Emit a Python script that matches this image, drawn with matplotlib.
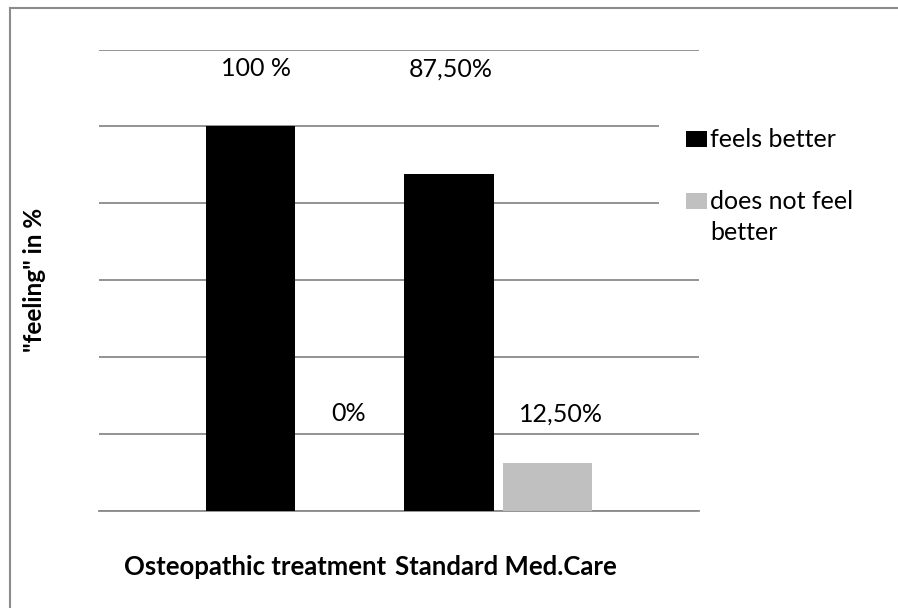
import matplotlib
matplotlib.use("Agg")
import matplotlib.pyplot as plt
from matplotlib.patches import Rectangle
from matplotlib.lines import Line2D
import numpy as np

plt.rcParams['font.family'] = ['Lato', 'DejaVu Sans']

# data
groups = ['Osteopathic treatment', 'Standard Med.Care']
series = ['feels better', 'does not feel better']
feels_better = [100, 87.5]
not_better = [0, 12.5]
value_text_better = ['100 %', '87,50%']
value_text_not = ['0%', '12,50%']
colors = ['black', '#c0c0c0']

fig = plt.figure(figsize=(8.98, 6.08), dpi=100)
ax = fig.add_axes([99 / 898, 1 - 511 / 608, 600 / 898, 461.5 / 608])

x = np.arange(len(groups))
w = 0.45
off = 0.247
ax.bar(x - off, feels_better, w, color=colors[0], label=series[0], zorder=3)
ax.bar(x + off, not_better, w, color=colors[1], label=series[1], zorder=3)

# value labels
for i, t in enumerate(value_text_better):
    dx = [0.028, 0.008][i]
    ax.text(x[i] - off + dx, 113, t, ha='center', va='baseline', fontsize=18)
for i, t in enumerate(value_text_not):
    dx = [0.0, 0.07][i]
    ax.text(x[i] + off + dx, 23.3, t, ha='center', va='baseline', fontsize=18)

ax.set_xlim(-1.009, 2.011)
ax.set_ylim(0, 120)
ax.set_yticks(range(0, 121, 20))
ax.yaxis.grid(True, color='#8a8a8a', lw=1.3)
ax.set_axisbelow(True)
ax.tick_params(left=False, bottom=False, labelleft=False, labelbottom=False)
for s in ['top', 'right', 'left']:
    ax.spines[s].set_visible(False)
ax.spines['bottom'].set_color('#8a8a8a')
ax.spines['bottom'].set_linewidth(1.3)

# category names under the axis
name_x = [-0.221, 1.039]
for nx, name in zip(name_x, groups):
    ax.text(nx, -0.1387, name, transform=ax.get_xaxis_transform(),
            ha='center', va='baseline', fontsize=18.5, fontweight='bold')

fig.text(34 / 898, 1 - 280 / 608, '"feeling" in %', rotation=90,
         ha='center', va='center', fontsize=17.5, fontweight='bold')

# legend: white box over the grid, squares and labels
def fy(py):
    return 1 - py / 608

fig.patches.append(Rectangle((659 / 898, fy(262)), 200 / 898, 158 / 608,
                             transform=fig.transFigure, facecolor='white',
                             edgecolor='none', zorder=2))
legend_lines = [['feels better'], ['does not feel', 'better']]
square_top = [131, 193]
for col, lines, top in zip(colors, legend_lines, square_top):
    fig.patches.append(Rectangle((686 / 898, fy(top + 16)), 21 / 898, 16 / 608,
                                 transform=fig.transFigure, facecolor=col,
                                 edgecolor='none', zorder=3))
    for k, line in enumerate(lines):
        fig.text(710 / 898, fy(top + 16 + k * 31), line, ha='left',
                 va='baseline', fontsize=18, zorder=4)

# chart border (top and left edges, the rest runs off the image)
bx, by = 9.5 / 898, fy(8.3)
fig.add_artist(Line2D([bx, 1.0], [by, by], transform=fig.transFigure,
                      color='#8c8c8c', lw=1.5))
fig.add_artist(Line2D([bx, bx], [0.0, by], transform=fig.transFigure,
                      color='#8c8c8c', lw=1.5))

fig.savefig('out.png', dpi=100)
